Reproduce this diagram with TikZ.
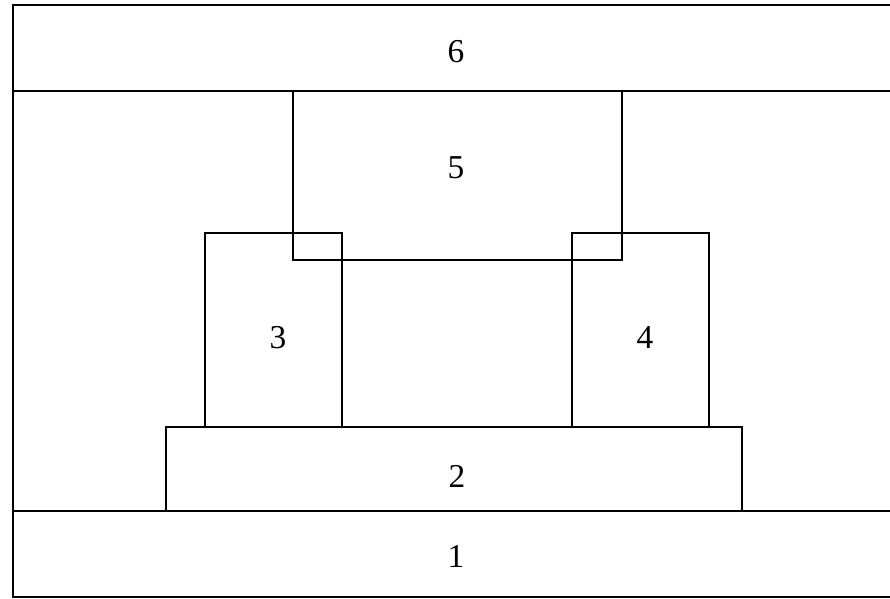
\documentclass[tikz,border=0pt]{standalone}
\usepackage{fontspec}
\setmainfont{Liberation Serif}
\usetikzlibrary{positioning}

\begin{document}
\begin{tikzpicture}[
  blk/.style   = {draw, line width=1.6pt, inner sep=0pt},
  lbl/.style   = {inner sep=0pt, font=\fontsize{19}{21}\selectfont},
  frame/.style = {line width=1.6pt},
  x=0.2mm, y=-0.2mm,
]
  \useasboundingbox (0,0) rectangle (890,598);

  % blocks
  \node[blk, minimum width=115.2mm, minimum height=16.8mm] (b2) at (454.0,469.0) {};
  \node[blk, minimum width=27.4mm, minimum height=38.8mm] (b3) at (273.5,330.0) {};
  \node[blk, minimum width=27.4mm, minimum height=38.8mm] (b4) at (640.5,330.0) {};
  \node[blk, minimum width=65.8mm, minimum height=33.8mm] (b5) at (457.5,175.5) {};
  \draw[frame] (890,5) -| (13,597) -- (890,597);
  \draw[frame] (13,91) -- (890,91);
  \draw[frame] (13,511) -- (890,511);

  % numbers
  \node[lbl] (t1) at (456.0,556.0) {1};
  \node[lbl] (t2) at (457.0,476.0) {2};
  \node[lbl] (t3) at (278.0,338.0) {3};
  \node[lbl] (t4) at (645.0,338.0) {4};
  \node[lbl] (t5) at (456.0,168.0) {5};
  \node[lbl] (t6) at (456.0,52.0) {6};
\end{tikzpicture}
\end{document}
